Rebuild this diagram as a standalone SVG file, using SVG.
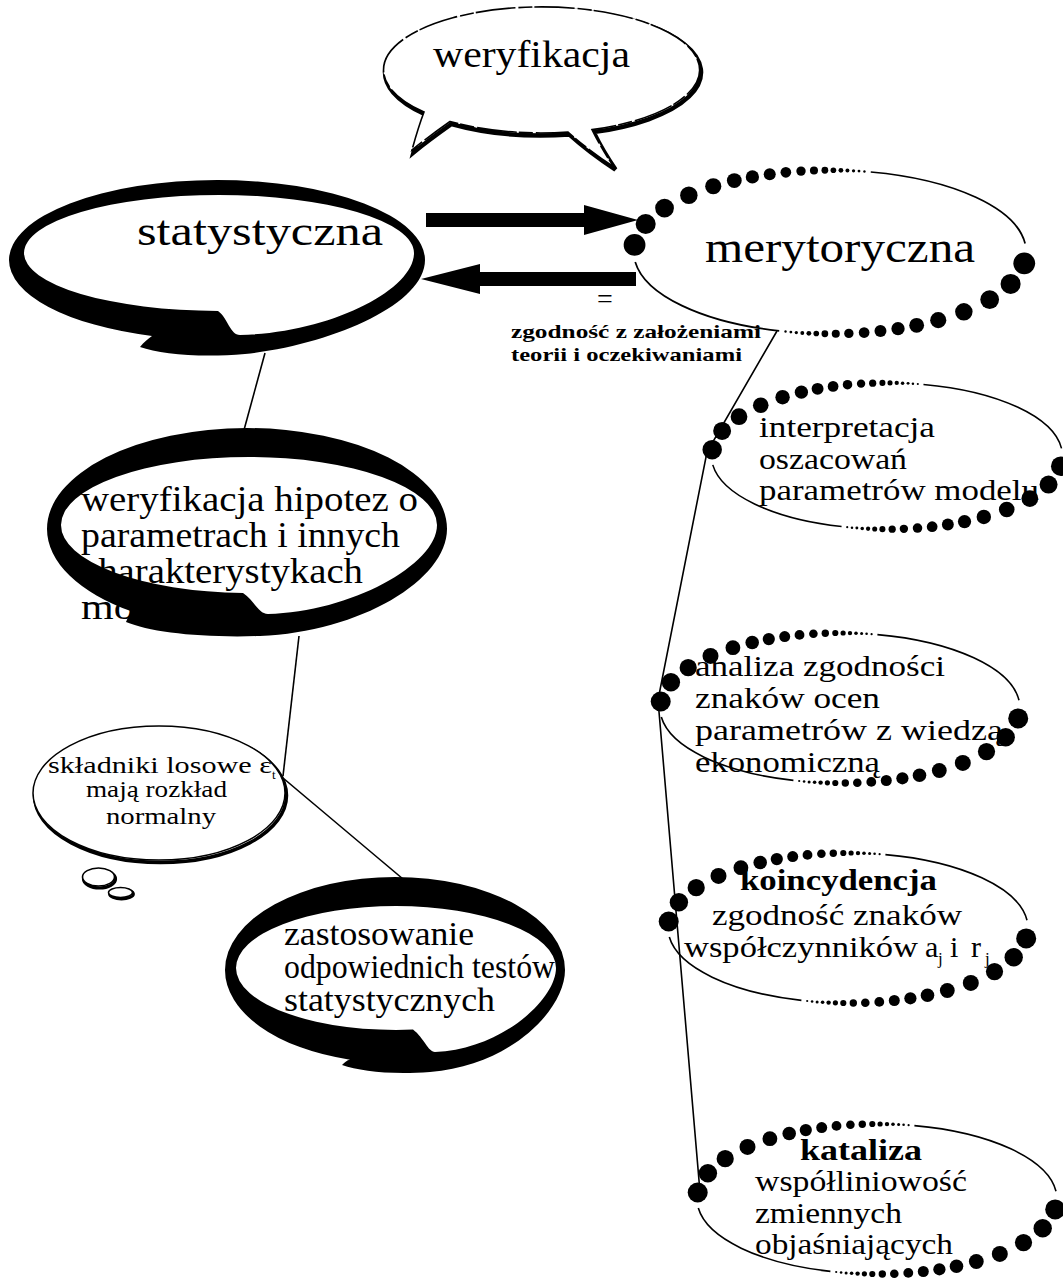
<svg xmlns="http://www.w3.org/2000/svg" xmlns:xlink="http://www.w3.org/1999/xlink" width="1063" height="1281" viewBox="0 0 1063 1281">
<style>
text { font-family: "Liberation Serif", "Times New Roman", serif; fill: #000; }
.b { font-weight: bold; }
.ln { fill: none; stroke: #000; stroke-width: 1.6; }
.ring { fill: #000; fill-rule: evenodd; }
.con { fill: none; stroke: #000; stroke-width: 1.6; }
.arr { fill: #000; }
</style>
<defs>
<g id="dotell">
<path class="ln" d="M 37.4 -73.4 A 180 75 0 0 1 179 -7.8 M -46.6 72.4 A 180 75 0 0 1 -178.7 9.1"/>
<g fill="#000">
<circle cx="-179.3" cy="-6.5" r="10"/>
<circle cx="-169.1" cy="-25.7" r="9.2"/>
<circle cx="-151.8" cy="-40.3" r="8.6"/>
<circle cx="-129.5" cy="-52.1" r="8"/>
<circle cx="-107.1" cy="-60.3" r="7.4"/>
<circle cx="-87.8" cy="-65.5" r="6.8"/>
<circle cx="-71.2" cy="-68.9" r="6.1"/>
<circle cx="-55.3" cy="-71.4" r="5.5"/>
<circle cx="-40.5" cy="-73.1" r="4.9"/>
<circle cx="-26.6" cy="-74.2" r="4.3"/>
<circle cx="-14.7" cy="-74.7" r="3.7"/>
<circle cx="-4.7" cy="-75" r="3.1"/>
<circle cx="3.1" cy="-75" r="2.6"/>
<circle cx="10" cy="-74.9" r="2.2"/>
<circle cx="16" cy="-74.7" r="1.8"/>
<circle cx="21.6" cy="-74.5" r="1.5"/>
<circle cx="26.6" cy="-74.2" r="1.3"/>
<circle cx="31.6" cy="-73.8" r="1.1"/>
<circle cx="178.2" cy="10.4" r="10"/>
<circle cx="165.7" cy="29.3" r="9.2"/>
<circle cx="146.5" cy="43.6" r="8.6"/>
<circle cx="122.8" cy="54.9" r="8"/>
<circle cx="99.3" cy="62.5" r="7.4"/>
<circle cx="79.5" cy="67.3" r="6.8"/>
<circle cx="62.4" cy="70.3" r="6.1"/>
<circle cx="46.3" cy="72.5" r="5.5"/>
<circle cx="31.3" cy="73.9" r="4.9"/>
<circle cx="17.3" cy="74.7" r="4.3"/>
<circle cx="5.3" cy="75" r="3.7"/>
<circle cx="-4.7" cy="75" r="3.1"/>
<circle cx="-12.6" cy="74.8" r="2.6"/>
<circle cx="-19.4" cy="74.6" r="2.2"/>
<circle cx="-25.4" cy="74.3" r="1.8"/>
<circle cx="-30.9" cy="73.9" r="1.5"/>
<circle cx="-35.9" cy="73.5" r="1.3"/>
<circle cx="-40.8" cy="73" r="1.1"/>
</g>
</g>
<path id="bub" d="M 424 112 A 158 63 0 1 1 592 129.6 Q 602 150 614 167 Q 588 150 568 132 A 158 63 0 0 1 450 121.5 Q 428 137 412 150 Q 418 128 424 112 Z"/>
</defs>
<rect width="1063" height="1281" fill="#fff"/>

<g id="n-weryfikacja">
<use xlink:href="#bub" transform="translate(1.5 2.5)" fill="none" stroke="#000" stroke-width="4.5"/>
<use xlink:href="#bub" fill="#fff" stroke="#000" stroke-width="1.6" stroke-dasharray="40 3 14 2"/>
<text x="433" y="67" font-size="38" textLength="197" lengthAdjust="spacingAndGlyphs">weryfikacja</text>
</g>

<g id="n-statystyczna">
<text x="137" y="245" font-size="42" textLength="246" lengthAdjust="spacingAndGlyphs">statystyczna</text>
<path class="ring" d="M 9 260 A 208 80 0 0 1 425 260 C 425 305 330 345 245 354 C 200 358 160 354 140 347 C 144 342 148 339 152 336 A 208 80 0 0 1 9 260 Z M 24 253 A 195 58 0 0 1 414 253 C 414 290 330 333 240 335 C 230 335 228 318 218 311 A 195 58 0 0 1 24 253 Z"/>
</g>

<g id="n-merytoryczna">
<use xlink:href="#dotell" transform="translate(830 252) scale(1.09)"/>
<text x="705" y="262" font-size="44" textLength="270" lengthAdjust="spacingAndGlyphs">merytoryczna</text>
</g>

<g id="n-zgodnosc">
<text x="605" y="308" font-size="28" text-anchor="middle">=</text>
<text class="b" x="511" y="338" font-size="19" textLength="250" lengthAdjust="spacingAndGlyphs">zgodność z założeniami</text>
<text class="b" x="511" y="361" font-size="19" textLength="231" lengthAdjust="spacingAndGlyphs">teorii i oczekiwaniami</text>
</g>

<g id="n-hipotezy">
<text x="81" y="511" font-size="35" textLength="337" lengthAdjust="spacingAndGlyphs">weryfikacja hipotez o</text>
<text x="81" y="547" font-size="35" textLength="319" lengthAdjust="spacingAndGlyphs">parametrach i innych</text>
<text x="81" y="583" font-size="35" textLength="282" lengthAdjust="spacingAndGlyphs">charakterystykach</text>
<text x="81" y="619" font-size="35" textLength="126" lengthAdjust="spacingAndGlyphs">modelu</text>
<path class="ring" d="M 47 529 A 200 101 0 0 1 447 529 C 447 580 360 632 260 636 C 200 638 150 632 126 622 C 128 617 130 614 132 611.6 A 200 101 0 0 1 47 529 Z M 61 525 A 188 68 0 0 1 437 525 C 437 565 350 612 268 614 C 258 614 254 600 243 593 A 188 68 0 0 1 61 525 Z"/>
</g>

<g id="n-skladniki">
<ellipse cx="160.5" cy="795.5" rx="126" ry="67" fill="none" stroke="#000" stroke-width="3.5"/>
<ellipse cx="159" cy="793" rx="126" ry="67" fill="#fff" stroke="#000" stroke-width="1.5"/>
<ellipse cx="99.5" cy="879" rx="16" ry="9" fill="none" stroke="#000" stroke-width="3.2"/>
<ellipse cx="98.5" cy="877" rx="16" ry="9" fill="#fff" stroke="#000" stroke-width="1.6"/>
<ellipse cx="121.5" cy="894" rx="12" ry="5" fill="none" stroke="#000" stroke-width="2.8"/>
<ellipse cx="120.5" cy="892.5" rx="12" ry="5" fill="#fff" stroke="#000" stroke-width="1.5"/>
<text x="48" y="773" font-size="24" textLength="224" lengthAdjust="spacingAndGlyphs">składniki losowe ε</text>
<text x="272" y="779" font-size="13">t</text>
<text x="86" y="797" font-size="24" textLength="141" lengthAdjust="spacingAndGlyphs">mają rozkład</text>
<text x="106" y="824" font-size="24" textLength="110" lengthAdjust="spacingAndGlyphs">normalny</text>
</g>

<g id="n-zastosowanie">
<text x="284" y="945" font-size="33" textLength="190" lengthAdjust="spacingAndGlyphs">zastosowanie</text>
<text x="284" y="978" font-size="33" textLength="271" lengthAdjust="spacingAndGlyphs">odpowiednich testów</text>
<text x="284" y="1011" font-size="33" textLength="211" lengthAdjust="spacingAndGlyphs">statystycznych</text>
<path class="ring" d="M 225 970 A 170 93 0 0 1 565 970 C 565 1010 510 1066 430 1072 C 390 1075 360 1071 342 1065 C 345 1062 347 1060 350 1059.7 A 170 93 0 0 1 225 970 Z M 236 968 A 160 62 0 0 1 556 968 C 556 1000 500 1050 435 1052 C 428 1052 424 1038 413 1029.6 A 160 62 0 0 1 236 968 Z"/>
</g>

<g id="n-interpretacja">
<use xlink:href="#dotell" transform="translate(887 456) scale(0.975)"/>
<text x="759" y="437" font-size="30" textLength="176" lengthAdjust="spacingAndGlyphs">interpretacja</text>
<text x="759" y="469" font-size="30" textLength="148" lengthAdjust="spacingAndGlyphs">oszacowań</text>
<text x="759" y="500" font-size="30" textLength="280" lengthAdjust="spacingAndGlyphs">parametrów modelu</text>
</g>

<g id="n-analiza">
<use xlink:href="#dotell" transform="translate(840 708)"/>
<text x="695" y="676" font-size="30" textLength="250" lengthAdjust="spacingAndGlyphs">analiza zgodności</text>
<text x="695" y="708" font-size="30" textLength="185" lengthAdjust="spacingAndGlyphs">znaków ocen</text>
<text x="695" y="740" font-size="30" textLength="308" lengthAdjust="spacingAndGlyphs">parametrów z wiedzą</text>
<text x="695" y="772" font-size="30" textLength="185" lengthAdjust="spacingAndGlyphs">ekonomiczną</text>
</g>

<g id="n-koincydencja">
<use xlink:href="#dotell" transform="translate(848 928)"/>
<text class="b" x="740" y="890" font-size="30" textLength="197" lengthAdjust="spacingAndGlyphs">koincydencja</text>
<text x="712" y="925" font-size="30" textLength="250" lengthAdjust="spacingAndGlyphs">zgodność znaków</text>
<text x="684" y="957" font-size="30" textLength="234" lengthAdjust="spacingAndGlyphs">współczynników</text>
<text x="925" y="957" font-size="30">a</text>
<text x="938" y="964" font-size="17">j</text>
<text x="950" y="957" font-size="30">i</text>
<text x="971" y="957" font-size="30">r</text>
<text x="985" y="964" font-size="17">j</text>
</g>

<g id="n-kataliza">
<use xlink:href="#dotell" transform="translate(877 1199)"/>
<text class="b" x="800" y="1160" font-size="30" textLength="122" lengthAdjust="spacingAndGlyphs">kataliza</text>
<text x="755" y="1191" font-size="30" textLength="212" lengthAdjust="spacingAndGlyphs">współliniowość</text>
<text x="755" y="1223" font-size="30" textLength="147" lengthAdjust="spacingAndGlyphs">zmiennych</text>
<text x="755" y="1254" font-size="30" textLength="198" lengthAdjust="spacingAndGlyphs">objaśniających</text>
</g>

<g id="connectors">
<path class="arr" d="M 426 213 L 584 213 L 584 205 L 638 220 L 584 235 L 584 227 L 426 227 Z"/>
<path class="arr" d="M 636 272 L 480 272 L 480 264 L 421 279 L 480 294 L 480 286 L 636 286 Z"/>
<line class="con" x1="265" y1="353" x2="244" y2="430"/>
<line class="con" x1="299" y1="636" x2="283" y2="776"/>
<line class="con" x1="283" y1="778" x2="403" y2="879"/>
<polyline class="con" points="777,331 707,452 658,700 700,1192"/>
</g>
</svg>
